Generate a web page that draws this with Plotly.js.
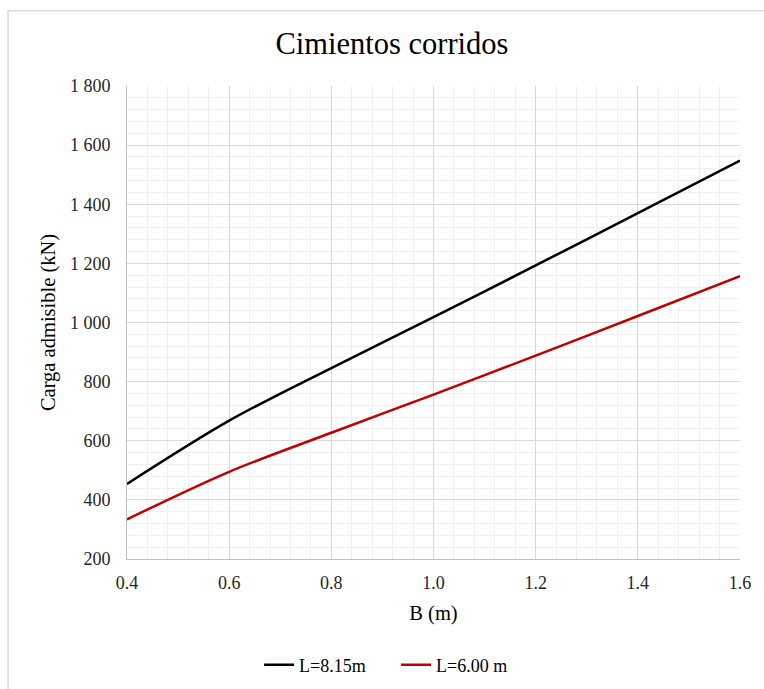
<!DOCTYPE html>
<html>
<head>
<meta charset="utf-8">
<script src="https://cdn.plot.ly/plotly-3.0.1.min.js"></script>
<style>
  html, body { margin: 0; padding: 0; background: #ffffff; }
  #chart { width: 764px; height: 689px; }
</style>
</head>
<body>
<div id="chart"></div>
<script>
// Foundation width B (m)
const anchoB = [0.4, 0.6, 0.8, 1.0, 1.2, 1.4, 1.6];
// Allowable load (kN) for each footing length
const cargaL815 = [454, 668, 846, 1018, 1193, 1370, 1548];
const cargaL600 = [334, 495, 627, 756, 888, 1022, 1157];
const nombreSeries = ['L=8.15m', 'L=6.00 m'];
const yTicks = [200, 400, 600, 800, 1000, 1200, 1400, 1600, 1800];
const xTicks = [0.4, 0.6, 0.8, 1.0, 1.2, 1.4, 1.6];

const FONT = 'Liberation Serif, DejaVu Serif, serif';

const traces = [
  {
    x: anchoB, y: cargaL815, name: nombreSeries[0],
    type: 'scatter', mode: 'lines',
    line: { color: '#000000', width: 2.5, shape: 'spline', smoothing: 0.9 }
  },
  {
    x: anchoB, y: cargaL600, name: nombreSeries[1],
    type: 'scatter', mode: 'lines',
    line: { color: '#c00000', width: 2.5, shape: 'spline', smoothing: 0.9 }
  }
];

const layout = {
  width: 764, height: 689,
  margin: { l: 127, r: 24, t: 86, b: 130, autoexpand: false },
  paper_bgcolor: '#ffffff', plot_bgcolor: '#ffffff',
  separators: '. ',
  font: { family: FONT, size: 18, color: '#262626' },
  title: {
    text: 'Cimientos corridos',
    font: { family: FONT, size: 30.5, color: '#000000' },
    x: 0.513, xanchor: 'center', xref: 'container',
    y: 48, yref: 'container', yanchor: 'middle'
  },
  xaxis: {
    range: [0.4, 1.6],
    tickvals: xTicks, tickformat: '.1f',
    ticks: '', ticklabelstandoff: 7,
    automargin: false,
    showgrid: true, gridcolor: '#d9d9d9', gridwidth: 1,
    minor: { dtick: 0.04, showgrid: true, gridcolor: '#f0f0f0', gridwidth: 1 },
    showline: true, linecolor: '#bfbfbf', linewidth: 1,
    zeroline: false,
    tickfont: { family: FONT, size: 18, color: '#262626' },
    title: { text: 'B (m)', font: { family: FONT, size: 20.5, color: '#000000' }, standoff: 14 }
  },
  yaxis: {
    range: [200, 1800],
    tickvals: yTicks, tickformat: ',d',
    ticks: '', ticklabelstandoff: 12,
    automargin: false,
    showgrid: true, gridcolor: '#d9d9d9', gridwidth: 1,
    minor: { dtick: 40, showgrid: true, gridcolor: '#f0f0f0', gridwidth: 1 },
    showline: true, linecolor: '#bfbfbf', linewidth: 1,
    zeroline: false,
    tickfont: { family: FONT, size: 18, color: '#262626' },
    title: { text: 'Carga admisible (kN)', font: { family: FONT, size: 20.5, color: '#000000' }, standoff: 8 }
  },
  showlegend: true,
  legend: {
    orientation: 'h',
    x: 0.439, xanchor: 'center',
    y: -0.224, yanchor: 'middle',
    entrywidth: 92,
    font: { family: FONT, size: 18, color: '#000000' },
    bgcolor: 'rgba(0,0,0,0)'
  },
  shapes: [
    {
      type: 'rect', xref: 'paper', yref: 'paper',
      x0: -0.194, x1: 1.06, y0: -0.30, y1: 1.159,
      line: { color: '#d9d9d9', width: 1.5 }, fillcolor: 'rgba(0,0,0,0)', layer: 'below'
    }
  ]
};

Plotly.newPlot('chart', traces, layout, { displayModeBar: false, staticPlot: true });
</script>
</body>
</html>
